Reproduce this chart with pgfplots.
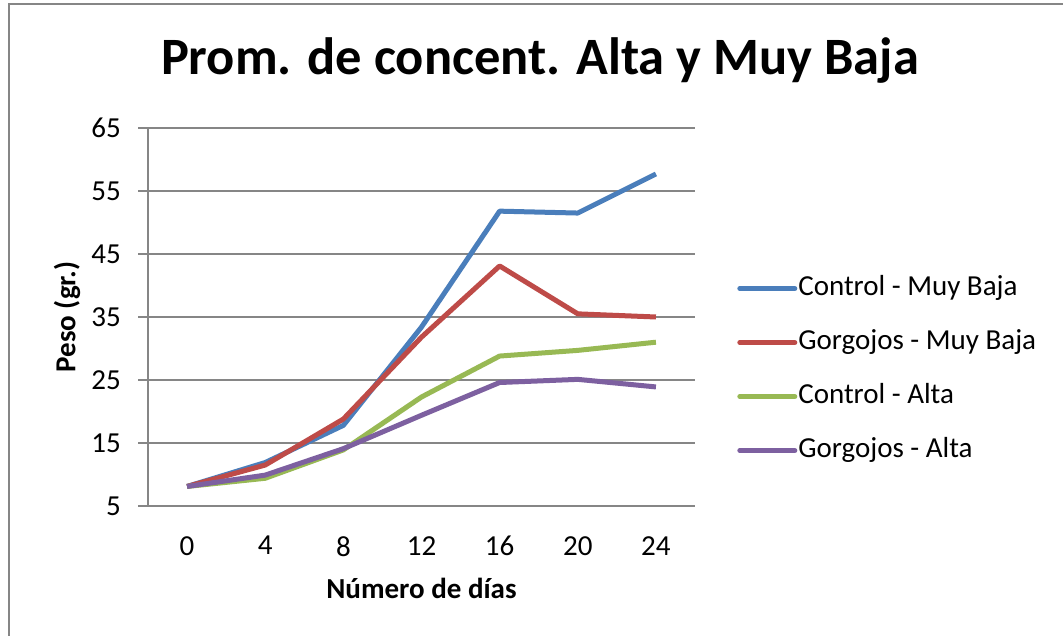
\documentclass[border=0pt]{standalone}
\usepackage{pgfplots}
\pgfplotsset{compat=1.18}
\usepackage{fontspec}
\setmainfont{Carlito}
\definecolor{s1}{HTML}{4A7EBB}
\definecolor{s2}{HTML}{BE4B48}
\definecolor{s3}{HTML}{98B954}
\definecolor{s4}{HTML}{7D60A0}
\definecolor{gridc}{HTML}{868686}
\begin{document}
\begin{tikzpicture}[x=1pt,y=1pt]
\path[use as bounding box] (0,0) rectangle (1063,636);
\fill[white] (0,0) rectangle (1063,636);
\draw[color=gridc, line width=2pt] (9,0) -- (9,632) -- (1063,632);
\begin{axis}[
 at={(148pt,130pt)}, anchor=south west,
 scale only axis, width=547pt, height=378pt,
 xmin=-0.5, xmax=6.5, ymin=5, ymax=65,
 xtick={0,...,6}, xticklabels={0,4,8,12,16,20,24},
 ytick={5,15,...,65},
 axis x line=bottom, axis y line=left,
 axis line style={-, draw=gridc, line width=1.2pt},
 ymajorgrids, grid style={draw=gridc, line width=1.2pt},
 x tick style={draw=none},
 y tick style={draw=gridc, line width=1.2pt},
 tick align=outside, major tick length=10pt,
 tick label style={font=\fontsize{29}{34}\selectfont},
 /pgf/number format/assume math mode=true,
 xticklabel style={anchor=north, inner sep=0pt, yshift=-20pt, font=\fontsize{29}{34}\selectfont},
 yticklabel style={anchor=east, inner sep=0pt, xshift=-17pt, font=\fontsize{29}{34}\selectfont},
 title={Prom. de concent. Alta y Muy Baja},
 title style={at={(0.7166,1.125)}, anchor=base, inner sep=0pt, font=\fontsize{52.5}{60}\selectfont\bfseries},
 xlabel={Número de días},
 xlabel style={at={(0.5,-0.217)}, anchor=center, inner sep=0pt, font=\fontsize{29}{34}\selectfont\bfseries},
 ylabel={Peso (gr.)},
 ylabel style={at={(-0.148,0.5)}, anchor=center, inner sep=0pt, font=\fontsize{29}{34}\selectfont\bfseries},
 legend style={at={(1.077,0.361)}, anchor=west, draw=none, fill=none, inner sep=0pt,
   row sep=26pt, font=\fontsize{29}{34}\selectfont,
   nodes={inner sep=1pt, anchor=west, text height=20pt, text depth=6pt}},
 legend cell align=left,
 legend image code/.code={\draw[#1, line width=5pt, line cap=round] (0pt,0pt) -- (55pt,0pt);},
 every axis plot/.append style={line width=5pt, line join=round, no markers},
]
\addplot[s1] coordinates {(0,8.1) (1,11.9) (2,17.8) (3,33.4) (4,51.8) (5,51.5) (6,57.7)};
\addlegendentry{Control - Muy Baja}
\addplot[s2] coordinates {(0,8.1) (1,11.5) (2,18.8) (3,31.8) (4,43.1) (5,35.5) (6,35.0)};
\addlegendentry{Gorgojos - Muy Baja}
\addplot[s3] coordinates {(0,8.1) (1,9.4) (2,13.9) (3,22.3) (4,28.8) (5,29.7) (6,31.0)};
\addlegendentry{Control - Alta}
\addplot[s4] coordinates {(0,8.1) (1,9.9) (2,14.1) (3,19.4) (4,24.6) (5,25.1) (6,23.9)};
\addlegendentry{Gorgojos - Alta}
\end{axis}
\end{tikzpicture}
\end{document}
